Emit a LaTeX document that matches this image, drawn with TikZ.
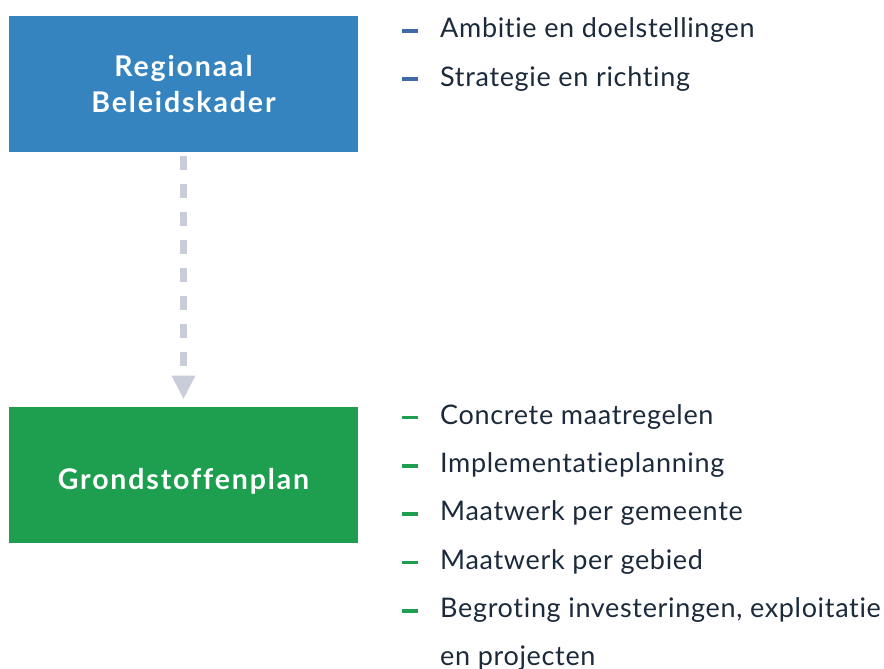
\documentclass[tikz,border=0pt]{standalone}
\usepackage{fontspec}
\setmainfont{Lato}[Ligatures=NoCommon, LetterSpace=2.5, BoldFeatures={LetterSpace=6.5}]
\usetikzlibrary{positioning, arrows.meta}
\definecolor{kaderblue}{HTML}{3584C0}
\definecolor{plangreen}{HTML}{1E9F50}
\definecolor{dashblue}{HTML}{3D6BA6}
\definecolor{itemtext}{HTML}{1C2A3B}
\definecolor{flowgrey}{HTML}{C9CDD9}
\tikzstyle{kader} = [rectangle, minimum width=349pt, minimum height=136pt, inner sep=0pt, text centered, align=center, text=white, font=\bfseries\fontsize{28.5}{35.5}\selectfont]
\tikzstyle{item} = [anchor=base west, inner sep=0pt, text=itemtext, align=left, font=\fontsize{27}{48.3}\selectfont]
\tikzstyle{bullet} = [line width=3.6pt]
\tikzstyle{flow} = [line width=7pt, flowgrey, dash pattern=on 14pt off 14pt, -{Triangle[width=22pt,length=24pt]}]

\begin{document}
\begin{tikzpicture}[x=1pt, y=-1pt]
  \useasboundingbox (0,0) rectangle (884,669);
  \node (regio) [kader, fill=kaderblue] at (183.5,83.8) {Regionaal\\Beleidskader};
  \node (plan) [kader, fill=plangreen, text height=29pt, text depth=0pt] at (183.5,474.7) {Grondstoffenplan};
  \draw [flow, shorten <= 4pt, shorten >= 7pt] (regio) -- (plan);
  % wat het kader vastlegt
  \node (ambitie) [item] at (440,37.7) {Ambitie en doelstellingen};
  \node (strategie) [item, below = 48.3pt of ambitie.base west, anchor = base west] {Strategie en richting};
  % wat het plan uitwerkt (basislijn van de laatste regel bij begroting)
  \node (concreet) [item] at (440,424.3) {Concrete maatregelen};
  \node (planning) [item, below = 48.3pt of concreet.base west, anchor = base west] {Implementatieplanning};
  \node (gemeente) [item, below = 48.3pt of planning.base west, anchor = base west] {Maatwerk per gemeente};
  \node (gebied) [item, below = 48.3pt of gemeente.base west, anchor = base west] {Maatwerk per gebied};
  \node (begroting) [item, below = 96.6pt of gebied.base west, anchor = base west] {Begroting investeringen, exploitatie\\en projecten};
  \foreach \n in {ambitie, strategie}
    \draw [bullet, dashblue] ([xshift = -38pt, yshift = 6.7pt]\n.base west) -- ++(16,0);
  \foreach \n/\dy in {concreet/6.7, planning/6.7, gemeente/6.7, gebied/6.7, begroting/55}
    \draw [bullet, plangreen] ([xshift = -38pt, yshift = \dy pt]\n.base west) -- ++(16,0);
\end{tikzpicture}
\end{document}
